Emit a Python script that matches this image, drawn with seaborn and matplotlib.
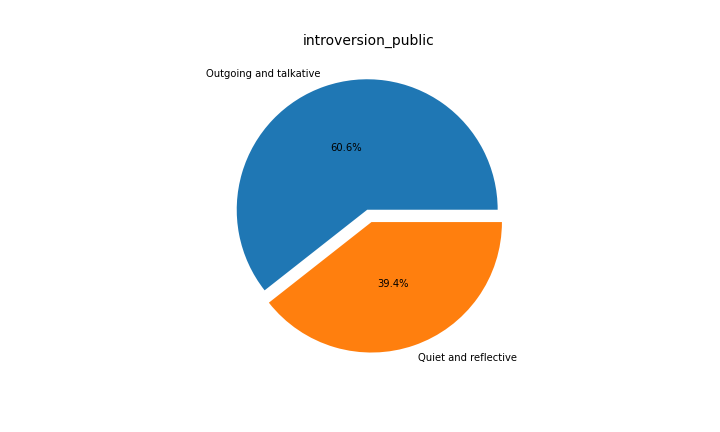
import matplotlib
matplotlib.use("Agg")
import matplotlib.pyplot as plt
import seaborn as sns

# pie data
categories = ["Outgoing and talkative", "Quiet and reflective"]
counts = [60.6, 39.4]
explode = [0, 0.1]

colors = sns.color_palette("tab10", 2)

fig = plt.figure(figsize=(7.2, 4.32), dpi=100)
ax = fig.add_axes([0.21, 0.137, 0.6, 0.755])
ax.pie(counts, labels=categories, autopct="%1.1f%%", explode=explode,
       colors=colors, pctdistance=0.5, textprops={"fontsize": 7.2})
fig.text(0.512, 0.905, "introversion_public", fontsize=10, ha="center", va="center")

plt.savefig("out.png", dpi=100)
